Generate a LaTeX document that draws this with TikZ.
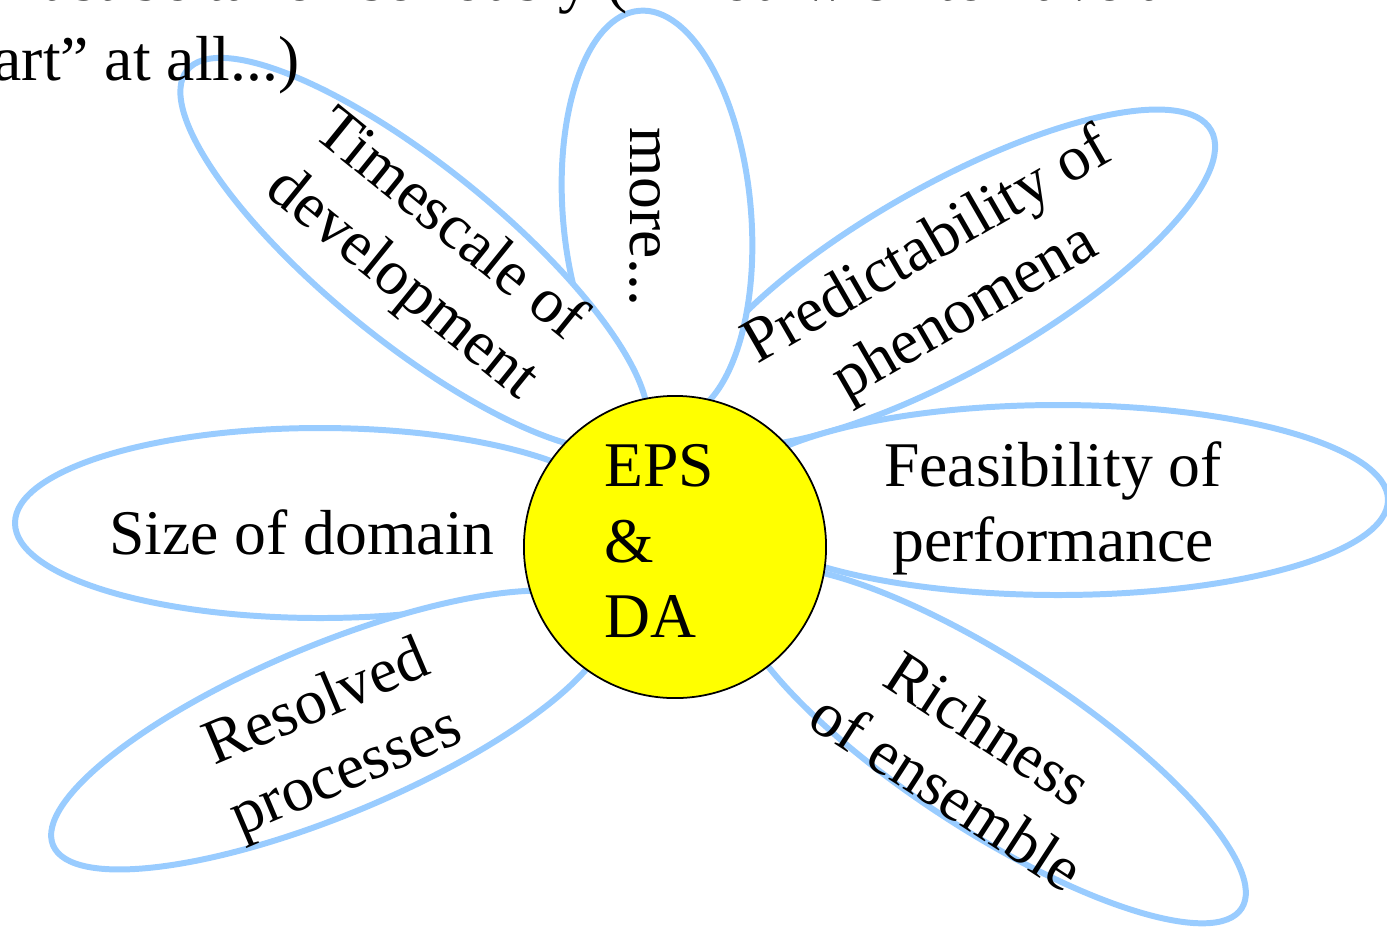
\documentclass[tikz,border=0pt]{standalone}
\usepackage{fontspec}
\setmainfont{Liberation Serif}
\definecolor{petalblue}{HTML}{99CCFF}
\definecolor{hubyellow}{HTML}{FFFF00}
\begin{document}
\begin{tikzpicture}[x=0.01cm, y=-0.01cm,
  petal/.style={draw=petalblue, line width=1.7pt, fill=white},
  lbl/.style={font=\fontsize{18.1}{21.4}\selectfont, align=center, inner sep=0pt}]
\useasboundingbox (0,0) rectangle (1387,926);
\clip (0,0) rectangle (1387,926);

% petals
\draw[petal, rotate around={29.5:(950,278)}] (950,278) ellipse [x radius=300, y radius=93];
\draw[petal, rotate around={5:(657,215)}] (657,215) ellipse [x radius=94, y radius=205];
\draw[petal, rotate around={-39:(414,254)}] (414,254) ellipse [x radius=292, y radius=88];
\draw[petal] (1058,500) ellipse [x radius=330, y radius=95];
\draw[petal] (320,523) ellipse [x radius=305, y radius=95];
\draw[petal, rotate around={22.6:(330,730)}] (330,730) ellipse [x radius=300, y radius=85];
\draw[petal, rotate around={-33:(990,745)}] (990,745) ellipse [x radius=300, y radius=85];

\node[circle, draw, line width=0.5pt, fill=hubyellow, minimum size=3.02cm, inner sep=0pt] (hub) at (675,547) {};
\node[lbl, align=left, anchor=west] (eps) at (604,541) {EPS\\\&\\DA};

\node[lbl, rotate=-90] (more) at (645,217) {more...};
\node[lbl, rotate=-39] (time) at (425,256) {Timescale of\\development};
\node[lbl, rotate=30] (pred) at (947,281) {Predictability of\\phenomena};
\node[lbl] (feas) at (1053,508) {Feasibility of\\performance};
\node[lbl] (size) at (302,532) {Size of domain};
\node[lbl, rotate=23] (res) at (332,740) {Resolved\\processes};
\node[lbl, rotate=-33] (rich) at (968,760) {Richness\\of ensemble};

% slide text cut off at the top
\node[lbl, anchor=base east] (line1) at (1168,0) {must be taken seriously (if You wish to have a};
\node[lbl, anchor=base east] (line2) at (300,80) {art” at all...)};
\end{tikzpicture}
\end{document}
